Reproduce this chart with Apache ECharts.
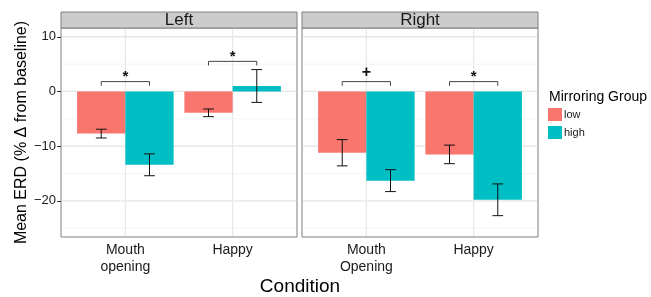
<!DOCTYPE html>
<html>
<head>
<meta charset="utf-8">
<script src="https://cdn.jsdelivr.net/npm/echarts@6/dist/echarts.min.js"></script>
<style>
  html, body { margin: 0; padding: 0; background: #fff; }
  #chart { width: 651px; height: 297px; }
</style>
</head>
<body>
<div id="chart"></div>
<script>
// group positions on the x axis (ggplot discrete scale: 1, 2)
const positions = [1, 2];
const leftLabels = ['Mouth\nopening', 'Happy'];
const rightLabels = ['Mouth\nOpening', 'Happy'];

// mean ERD per condition
const leftLow = [-7.7, -3.9];
const leftHigh = [-13.4, 1.0];
const rightLow = [-11.2, -11.5];
const rightHigh = [-16.3, -19.8];

// error bar half widths
const leftLowErr = [0.8, 0.7];
const leftHighErr = [2.0, 3.0];
const rightLowErr = [2.4, 1.7];
const rightHighErr = [2.0, 2.9];

// significance brackets
const leftBracket = [1.8, 5.5];
const rightBracket = [1.8, 1.8];
const leftSig = ['*', '*'];
const rightSig = ['+', '*'];

const yTicks = [-20, -10, 0, 10];
const yMinor = [-25, -15, -5, 5];

const LOW = '#F8766D', HIGH = '#00BFC4';
const FONT = 'Liberation Sans, Arial, sans-serif';
const dodge = 0.45;

let myChart = echarts.init(document.getElementById('chart'));

function hLines(params, api) {
    const cs = params.coordSys;
    const y = api.coord([api.value(0), api.value(1)])[1];
    const major = api.value(2) === 1;
    return {
        type: 'line',
        shape: { x1: cs.x + 1, y1: y, x2: cs.x + cs.width - 1, y2: y },
        style: { stroke: major ? '#e5e5e5' : '#f4f4f4', lineWidth: major ? 1.3 : 1 }
    };
}

function vLines(params, api) {
    const cs = params.coordSys;
    const x = api.coord([api.value(0), 0])[0];
    return {
        type: 'line',
        shape: { x1: x, y1: cs.y + 1, x2: x, y2: cs.y + cs.height - 1 },
        style: { stroke: '#e8e8e8', lineWidth: 1.3 }
    };
}

function barRender(side, color) {
    return function (params, api) {
        const x = api.value(0), v = api.value(1);
        const a = api.coord(side < 0 ? [x - dodge, 0] : [x, 0]);
        const b = api.coord(side < 0 ? [x, v] : [x + dodge, v]);
        return {
            type: 'rect',
            shape: {
                x: Math.min(a[0], b[0]), y: Math.min(a[1], b[1]),
                width: Math.abs(b[0] - a[0]), height: Math.abs(b[1] - a[1])
            },
            style: { fill: color }
        };
    };
}

function errRender(params, api) {
    const x = api.value(0), m = api.value(1), e = api.value(2);
    const top = api.coord([x, m + e]);
    const bot = api.coord([x, m - e]);
    const c0 = api.coord([x - 0.05, m])[0];
    const c1 = api.coord([x + 0.05, m])[0];
    const st = { stroke: '#111', lineWidth: 1 };
    return {
        type: 'group',
        children: [
            { type: 'line', shape: { x1: top[0], y1: top[1], x2: bot[0], y2: bot[1] }, style: st },
            { type: 'line', shape: { x1: c0, y1: top[1], x2: c1, y2: top[1] }, style: st },
            { type: 'line', shape: { x1: c0, y1: bot[1], x2: c1, y2: bot[1] }, style: st }
        ]
    };
}

function bracketRender(sig) {
    return function (params, api) {
        const x = api.value(0), y = api.value(1);
        const p1 = api.coord([x - dodge / 2, y - 0.75]);
        const p2 = api.coord([x - dodge / 2, y]);
        const p3 = api.coord([x + dodge / 2, y]);
        const p4 = api.coord([x + dodge / 2, y - 0.75]);
        const label = sig[params.dataIndex];
        return {
            type: 'group',
            children: [
                { type: 'polyline', shape: { points: [p1, p2, p3, p4] }, style: { stroke: '#444', lineWidth: 1, fill: null } },
                {
                    type: 'text',
                    style: {
                        text: label, x: (p2[0] + p3[0]) / 2, y: p2[1] - (label === '*' ? 5 : 9),
                        align: 'center', verticalAlign: 'middle',
                        font: (label === '*' ? 'bold 15px ' : 'bold 16px ') + FONT, fill: '#111'
                    }
                }
            ]
        };
    };
}

function panelSeries(idx, low, high, lowErr, highErr, bracket, sig) {
    const grid = [];
    yTicks.forEach(v => grid.push([positions[0], v, 1]));
    yMinor.forEach(v => grid.push([positions[0], v, 0]));
    return [
        { type: 'custom', xAxisIndex: idx, yAxisIndex: idx, z: 1, silent: true, renderItem: hLines, data: grid },
        { type: 'custom', xAxisIndex: idx, yAxisIndex: idx, z: 1, silent: true, renderItem: vLines, data: positions.map(p => [p, 0]) },
        { name: 'low', type: 'custom', xAxisIndex: idx, yAxisIndex: idx, z: 2, itemStyle: { color: LOW },
          renderItem: barRender(-1, LOW), data: positions.map((p, i) => [p, low[i]]) },
        { name: 'high', type: 'custom', xAxisIndex: idx, yAxisIndex: idx, z: 2, itemStyle: { color: HIGH },
          renderItem: barRender(1, HIGH), data: positions.map((p, i) => [p, high[i]]) },
        { type: 'custom', xAxisIndex: idx, yAxisIndex: idx, z: 3, silent: true, renderItem: errRender,
          data: positions.map((p, i) => [p - dodge / 2, low[i], lowErr[i]]).concat(
                positions.map((p, i) => [p + dodge / 2, high[i], highErr[i]])) },
        { type: 'custom', xAxisIndex: idx, yAxisIndex: idx, z: 3, silent: true, renderItem: bracketRender(sig),
          data: positions.map((p, i) => [p, bracket[i]]) }
    ];
}

function xAxisFor(idx, labels) {
    return {
        type: 'value', gridIndex: idx, min: 0.4, max: 2.6,
        axisLine: { show: false },
        splitLine: { show: false },
        axisTick: { show: true, length: 4, customValues: positions, lineStyle: { color: '#333' } },
        axisLabel: {
            customValues: positions, margin: 5,
            fontFamily: FONT, fontSize: 14, color: '#1a1a1a', lineHeight: 17,
            formatter: v => labels[positions.indexOf(v)]
        }
    };
}

function yAxisFor(idx, showLabels) {
    return {
        type: 'value', gridIndex: idx, min: -26.6, max: 11.6,
        name: showLabels ? 'Mean ERD (% \u0394 from baseline)' : '',
        nameLocation: 'middle', nameGap: 31,
        nameTextStyle: { fontFamily: FONT, fontSize: 16, color: '#000' },
        axisLine: { show: false },
        splitLine: { show: false },
        axisTick: { show: showLabels, length: 4, customValues: yTicks, lineStyle: { color: '#333' } },
        axisLabel: {
            show: showLabels, customValues: yTicks, margin: 5,
            fontFamily: FONT, fontSize: 13, color: '#1a1a1a',
            formatter: v => String(v).replace('-', '\u2212')
        }
    };
}

let option = {
    backgroundColor: '#fff',
    animation: false,
    grid: [
        { left: 61, top: 28, width: 236, height: 209, show: true, borderColor: '#7f7f7f', borderWidth: 1, backgroundColor: '#fff' },
        { left: 302, top: 28, width: 236, height: 209, show: true, borderColor: '#7f7f7f', borderWidth: 1, backgroundColor: '#fff' }
    ],
    xAxis: [xAxisFor(0, leftLabels), xAxisFor(1, rightLabels)],
    yAxis: [yAxisFor(0, true), yAxisFor(1, false)],
    legend: {
        data: ['low', 'high'], orient: 'vertical', left: 548, top: 108,
        itemWidth: 14, itemHeight: 13, itemGap: 5, padding: 0, icon: 'rect',
        textStyle: { fontFamily: FONT, fontSize: 11, color: '#1a1a1a', padding: [0, 0, 0, -3] }
    },
    graphic: [
        { type: 'rect', shape: { x: 61, y: 12, width: 236, height: 16 }, style: { fill: '#cccccc', stroke: '#7f7f7f', lineWidth: 1 } },
        { type: 'rect', shape: { x: 302, y: 12, width: 236, height: 16 }, style: { fill: '#cccccc', stroke: '#7f7f7f', lineWidth: 1 } },
        { type: 'text', style: { text: 'Left', x: 179, y: 20.5, align: 'center', verticalAlign: 'middle', font: '17px ' + FONT, fill: '#1a1a1a' } },
        { type: 'text', style: { text: 'Right', x: 420, y: 20.5, align: 'center', verticalAlign: 'middle', font: '17px ' + FONT, fill: '#1a1a1a' } },
        { type: 'text', style: { text: 'Condition', x: 300, y: 287, align: 'center', verticalAlign: 'middle', font: '19px ' + FONT, fill: '#000' } },
        { type: 'text', style: { text: 'Mirroring Group', x: 549, y: 97, align: 'left', verticalAlign: 'middle', font: '14px ' + FONT, fill: '#000' } }
    ],
    series: [].concat(
        panelSeries(0, leftLow, leftHigh, leftLowErr, leftHighErr, leftBracket, leftSig),
        panelSeries(1, rightLow, rightHigh, rightLowErr, rightHighErr, rightBracket, rightSig)
    )
};
myChart.setOption(option);
</script>
</body>
</html>
